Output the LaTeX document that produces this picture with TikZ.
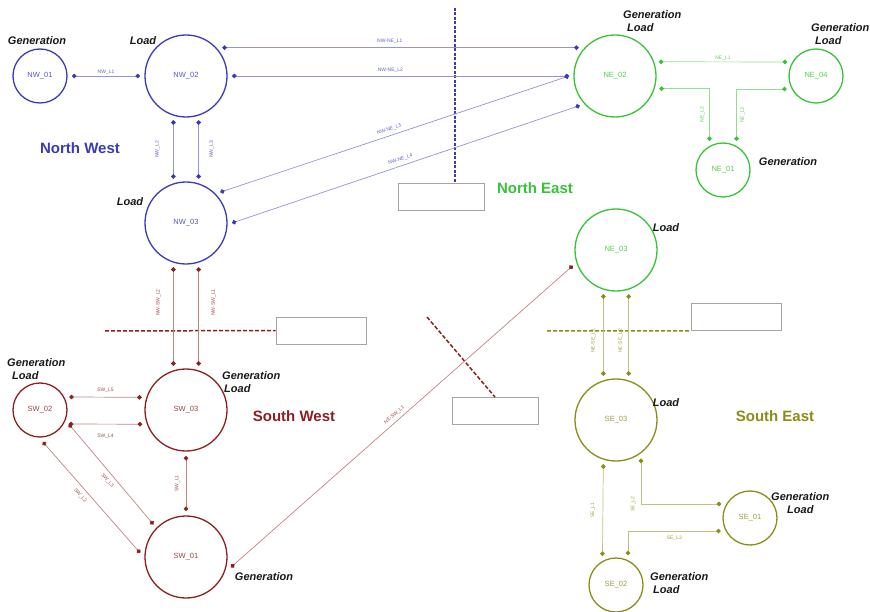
\documentclass[tikz,border=0pt]{standalone}
\usepackage{fontspec}
\setmainfont{Liberation Sans}
\usepackage{xcolor}
\usepackage{tikz}
\usetikzlibrary{arrows.meta}

\definecolor{nwblue}{RGB}{58,58,185}
\definecolor{negreen}{RGB}{55,195,55}
\definecolor{swred}{RGB}{140,32,32}
\definecolor{seolive}{RGB}{140,140,25}
\definecolor{tagline}{RGB}{165,165,165}
\definecolor{roletext}{RGB}{25,25,25}

\begin{document}
\begin{tikzpicture}[x=1pt, y=-1pt,
    every node/.style={font=\fontsize{7.5}{9}\selectfont},
    bus/.style = {circle, draw=#1, text=#1!85, line width=1.3pt,
                  minimum size=82pt, inner sep=0pt, outer sep=5pt},
    sbus/.style = {bus=#1, minimum size=54pt},
    link/.style = {draw=#1!55, line width=0.7pt,
                   {Circle[length=4.6pt, width=4.6pt, color=#1]}-{Circle[length=4.6pt, width=4.6pt, color=#1]}},
    lbl/.style = {font=\fontsize{5}{6}\selectfont, text=#1!80, inner sep=1.5pt},
    role/.style = {font=\fontsize{11}{13}\selectfont\bfseries\itshape,
                   text=roletext, align=left, inner sep=0pt},
    area/.style = {font=\fontsize{15}{18}\selectfont\bfseries, text=#1},
    tag/.style = {rectangle, draw=tagline, line width=0.9pt, fill=white,
                  minimum width=#1, minimum height=27pt},
    cut/.style = {draw=#1, line width=1.5pt, dash pattern=on 4pt off 2pt}
]
\useasboundingbox (0,0) rectangle (870,612);

% buses
\node (nw01) [sbus=nwblue] at (40,76)  {NW\_01};
\node (nw02) [bus=nwblue]  at (186,76) {NW\_02};
\node (nw03) [bus=nwblue]  at (186,223) {NW\_03};

\node (ne02) [bus=negreen]  at (615,76)  {NE\_02};
\node (ne04) [sbus=negreen] at (816,76)  {NE\_04};
\node (ne01) [sbus=negreen] at (723,170) {NE\_01};
\node (ne03) [bus=negreen]  at (616,250) {NE\_03};

\node (sw02) [sbus=swred] at (40,410)  {SW\_02};
\node (sw03) [bus=swred]  at (186,410) {SW\_03};
\node (sw01) [bus=swred]  at (186,557) {SW\_01};

\node (se03) [bus=seolive]  at (616,420) {SE\_03};
\node (se01) [sbus=seolive] at (750,518) {SE\_01};
\node (se02) [sbus=seolive] at (616,585) {SE\_02};

% empty tags at the area borders
\node (nwtag) [tag=86pt] at (441,196.5) {};
\node (swtag) [tag=90pt] at (321,330.5) {};
\node (midtag) [tag=86pt] at (495,411) {};
\node (setag) [tag=90pt] at (736,317) {};

\coordinate (nwcut) at (455,8);
\coordinate (swcut) at (105,331);
\coordinate (midcut) at (427,317);
\coordinate (secut) at (547,331);

\draw[cut=nwblue, dash pattern=on 3pt off 1.5pt] (nwcut) -- (nwcut |- nwtag.north);
\draw[cut=swred]   (swcut) -- (swtag.west);
\draw[cut=swred]   (midcut) -- (midtag.north);
\draw[cut=seolive] (secut) -- (setag.south west);

% north west lines
\draw[link=nwblue] (nw01.east) -- (nw02.west) node[lbl=nwblue, midway, above] {NW\_L1};
\draw[link=nwblue] (nw02.254) -- (nw03.106) node[lbl=nwblue, midway, xshift=-16pt, rotate=90] {NW\_L2};
\draw[link=nwblue] (nw02.286) -- (nw03.74) node[lbl=nwblue, midway, xshift=13pt, rotate=90] {NW\_L3};
\draw[link=nwblue] (nw02.38) -- (ne02.142) node[lbl=nwblue, pos=0.47, above=2pt] {NW-NE\_L1};
\draw[link=nwblue] (nw02.east) -- (ne02.west) node[lbl=nwblue, pos=0.47, above=2pt] {NW-NE\_L2};
\draw[link=nwblue] (nw03.42) -- (ne02.west) node[lbl=nwblue, pos=0.49, sloped, above=2pt] {NW-NE\_L3};
\draw[link=nwblue] (nw03.east) -- (ne02.220) node[lbl=nwblue, pos=0.49, sloped, above=2pt] {NW-NE\_L4};

% north east lines
\draw[link=negreen] (ne02.18) -- (ne04.154) node[lbl=negreen, midway, above] {NE\_L1};
\draw[link=negreen] (ne02.-16) -| (ne01.115) node[lbl=negreen, pos=0.75, xshift=-7pt, rotate=90] {NE\_L2};
\draw[link=negreen] (ne04.204) -| (ne01.65) node[lbl=negreen, pos=0.75, xshift=6pt, rotate=90] {NE\_L3};

% south west lines
\draw[link=swred] (nw03.254) -- (sw03.106) node[lbl=swred, midway, xshift=-15pt, yshift=14pt, rotate=90] {NW-SW\_L2};
\draw[link=swred] (nw03.286) -- (sw03.74) node[lbl=swred, midway, xshift=15pt, yshift=14pt, rotate=90] {NW-SW\_L1};
\draw[link=swred] (sw02.24) -- (sw03.164) node[lbl=swred, midway, above=3pt] {SW\_L5};
\draw[link=swred] (sw02.-26) -- (sw03.198) node[lbl=swred, midway, below=8pt] {SW\_L4};
\draw[link=swred] (sw02.-26) -- (sw01.135) node[lbl=swred, pos=0.52, sloped, below=3pt] {SW\_L3};
\draw[link=swred] (sw02.-85) -- (sw01.175) node[lbl=swred, pos=0.44, sloped, below=3pt] {SW\_L2};
\draw[link=swred] (sw03.south) -- (sw01.north) node[lbl=swred, midway, xshift=-9pt, rotate=90] {SW\_L1};
\draw[link=swred] (sw01.-13) -- (ne03.200) node[lbl=swred, pos=0.49, sloped, above=2pt] {NE-SW\_L1};

% south east lines
\draw[link=seolive] (ne03.254) -- (se03.106) node[lbl=seolive, midway, xshift=-10pt, yshift=-6pt, rotate=90] {NE-SE\_L1};
\draw[link=seolive] (ne03.286) -- (se03.74) node[lbl=seolive, midway, xshift=-8pt, yshift=-6pt, rotate=90] {NE-SE\_L2};
\draw[link=seolive] (se03.254) -- (se02.115) node[lbl=seolive, midway, xshift=-10pt, rotate=90] {SE\_L1};
\draw[link=seolive] (se03.-57) |- (se01.154) node[lbl=seolive, pos=0.5, xshift=-8pt, rotate=90] {SE\_L2};
\draw[link=seolive] (se01.204) -| (se02.68) node[lbl=seolive, pos=0.25, below=3pt] {SE\_L3};

% generation / load roles
\node (nw01role) [role] at (37,41)  {Generation};
\node (nw02role) [role] at (143,41) {Load};
\node (nw03role) [role] at (130,202) {Load};
\node (ne02role) [role, anchor=north west] at (623,10) {Generation\\\hspace*{4pt}Load};
\node (ne04role) [role, anchor=north west] at (811,23) {Generation\\\hspace*{4pt}Load};
\node (ne01role) [role] at (788,162) {Generation};
\node (ne03role) [role] at (666,228) {Load};
\node (se03role) [role] at (666,403) {Load};
\node (se01role) [role, anchor=north west] at (771,492) {Generation\\\hspace*{16pt}Load};
\node (se02role) [role, anchor=north west] at (650,572) {Generation\\\hspace*{3pt}Load};
\node (sw02role) [role, anchor=north west] at (7,358) {Generation\\\hspace*{5pt}Load};
\node (sw03role) [role, anchor=north west] at (222,371) {Generation\\\hspace*{2pt}Load};
\node (sw01role) [role] at (264,577) {Generation};

% area names
\node (nwarea) [area=nwblue]  at (80,148)  {North West};
\node (nearea) [area=negreen] at (535,188) {North East};
\node (swarea) [area=swred]   at (294,416) {South West};
\node (searea) [area=seolive] at (775,416) {South East};

\end{tikzpicture}
\end{document}
